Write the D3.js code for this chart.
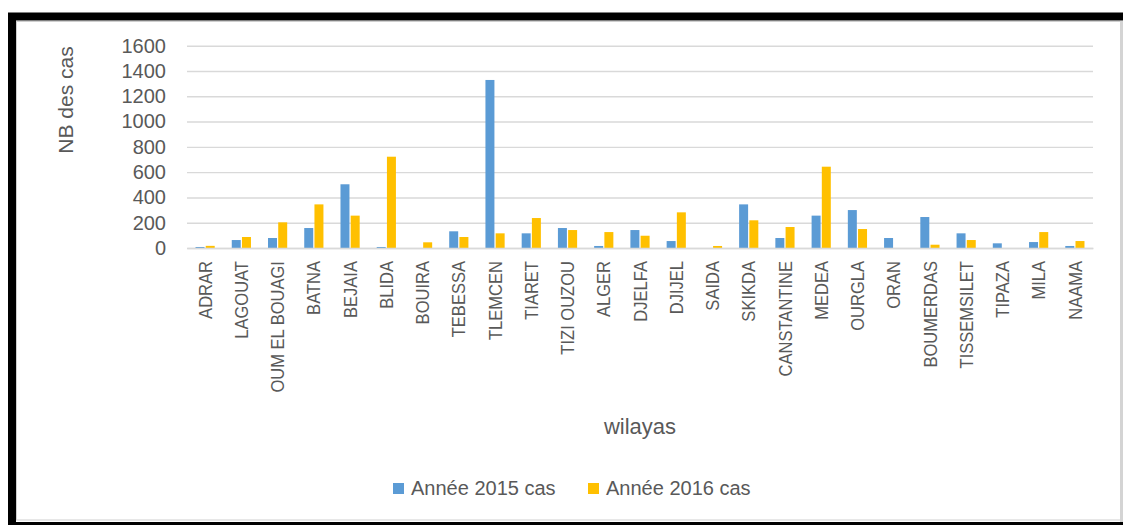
<!DOCTYPE html>
<html>
<head>
<meta charset="utf-8">
<script src="https://cdn.jsdelivr.net/npm/d3@7"></script>
<style>
  html, body { margin: 0; padding: 0; background: #fff; }
  svg { display: block; }
  text { font-family: "Liberation Sans", Arial, sans-serif; fill: #595959; }
</style>
</head>
<body>
<svg id="mainsvg" width="1123" height="525"></svg>
<script>
// data
const wilayas = ['ADRAR', 'LAGOUAT', 'OUM EL BOUAGI', 'BATNA', 'BEJAIA', 'BLIDA', 'BOUIRA', 'TEBESSA',
    'TLEMCEN', 'TIARET', 'TIZI OUZOU', 'ALGER', 'DJELFA', 'DJIJEL', 'SAIDA', 'SKIKDA', 'CANSTANTINE',
    'MEDEA', 'OURGLA', 'ORAN', 'BOUMERDAS', 'TISSEMSILET', 'TIPAZA', 'MILA', 'NAAMA'];
const cas2015 = [8, 63, 79, 158, 504, 8, 0, 132, 1329, 116, 158, 16, 142, 55, 0, 345, 79, 256, 300, 79, 245, 116, 37, 47, 16];
const cas2016 = [17, 87, 203, 345, 256, 722, 45, 87, 116, 237, 142, 126, 97, 282, 16, 219, 166, 643, 150, 0, 26, 63, 0, 126, 55];
const seriesNames = ['Année 2015 cas', 'Année 2016 cas'];
const yTicks = [0, 200, 400, 600, 800, 1000, 1200, 1400, 1600];

const colors = ['#5B9BD5', '#FFC000'];
const svg = d3.select('#mainsvg');

// frame
svg.append('rect').attr('x', 12).attr('y', 16.5).attr('width', 1200).attr('height', 509.5)
    .attr('fill', 'none').attr('stroke', '#000').attr('stroke-width', 8);
svg.append('rect').attr('x', 16.5).attr('y', 21.5).attr('width', 1104).attr('height', 498.5)
    .attr('fill', '#fff').attr('stroke', '#cfcfcf').attr('stroke-width', 1);
svg.append('rect').attr('x', 1120).attr('y', 21).attr('width', 3).attr('height', 501).attr('fill', '#d4d4d4');

const plotLeft = 187, plotRight = 1093, plotTop = 45.7, plotBottom = 248;

const xScale = d3.scaleBand().domain(wilayas).range([plotLeft, plotRight]).paddingInner(0).paddingOuter(0);
const bw = xScale.bandwidth();
const xSub = d3.scaleBand().domain([0, 1])
    .range([bw / 2 - 9.6, bw / 2 + 9.6]).paddingInner(0.12);
const yScale = d3.scaleLinear().domain([0, 1600]).range([plotBottom, plotTop]);

// y axis with gridlines
const yAxis = d3.axisLeft(yScale).tickValues(yTicks).tickFormat(d3.format('d'))
    .tickSize(-(plotRight - plotLeft)).tickPadding(21);
const yAxisGroup = svg.append('g').attr('transform', `translate(${plotLeft}, 0)`).call(yAxis);
yAxisGroup.select('.domain').remove();
yAxisGroup.selectAll('.tick line').attr('stroke', '#d9d9d9').attr('stroke-width', 1.4);
yAxisGroup.selectAll('.tick text').attr('font-size', 20).attr('fill', '#595959')
    .style('font-family', '"Liberation Sans", Arial, sans-serif');

// bars
const rows = wilayas.map((w, i) => ({ w: w, vals: [cas2015[i], cas2016[i]] }));
const groups = svg.append('g').selectAll('g').data(rows).join('g')
    .attr('transform', d => `translate(${xScale(d.w)}, 0)`);
groups.selectAll('rect').data(d => d.vals.map((v, k) => ({ v: v, k: k }))).join('rect')
    .attr('x', d => xSub(d.k))
    .attr('width', xSub.bandwidth())
    .attr('y', d => yScale(d.v))
    .attr('height', d => plotBottom - yScale(d.v))
    .attr('fill', d => colors[d.k]);

// x axis labels (rotated, squeezed a little along the text like the original narrow font)
const xAxis = d3.axisBottom(xScale).tickSize(0).tickPadding(0);
const xAxisGroup = svg.append('g').attr('transform', `translate(0, ${plotBottom})`).call(xAxis);
xAxisGroup.select('.domain').attr('stroke', '#d9d9d9').attr('stroke-width', 1.4);
xAxisGroup.selectAll('.tick text')
    .attr('font-size', 19)
    .attr('fill', '#595959')
    .style('font-family', '"Liberation Sans", Arial, sans-serif')
    .attr('text-anchor', 'end')
    .attr('transform', 'rotate(-90) scale(0.87, 1)')
    .attr('x', -15)
    .attr('y', 0)
    .attr('dy', '0.35em');

// axis titles
svg.append('text')
    .attr('transform', 'translate(66, 100) rotate(-90)')
    .attr('text-anchor', 'middle')
    .attr('dy', '0.35em')
    .attr('font-size', 21)
    .text('NB des cas');
svg.append('text')
    .attr('x', 640).attr('y', 434)
    .attr('text-anchor', 'middle')
    .attr('font-size', 22)
    .text('wilayas');

// legend
const legendX = [393, 588];
const legend = svg.append('g').selectAll('g').data(seriesNames).join('g')
    .attr('transform', (d, i) => `translate(${legendX[i]}, 0)`);
legend.append('rect').attr('x', 0).attr('y', 483).attr('width', 11).attr('height', 11)
    .attr('fill', (d, i) => colors[i]);
legend.append('text').attr('x', 18).attr('y', 494.5).attr('font-size', 20).text(d => d);
</script>
</body>
</html>
